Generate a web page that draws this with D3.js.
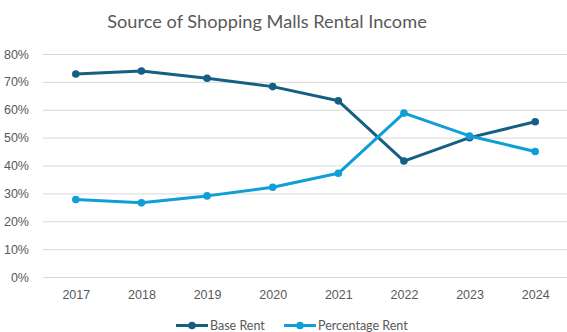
<!DOCTYPE html>
<html>
<head>
<meta charset="utf-8">
<script src="https://cdn.jsdelivr.net/npm/d3@7"></script>
<style>
  html, body { margin: 0; padding: 0; background: #fff; }
  svg { display: block; font-family: "Lato", "Open Sans", sans-serif; }
</style>
</head>
<body>
<svg id="chart" width="567" height="332"></svg>
<script>
const years = ["2017", "2018", "2019", "2020", "2021", "2022", "2023", "2024"];
const baseRent = [72.8, 73.9, 71.3, 68.3, 63.2, 41.6, 50.0, 55.7];
const percentageRent = [27.8, 26.6, 29.1, 32.2, 37.2, 58.8, 50.6, 45.0];
const yTicks = [0, 10, 20, 30, 40, 50, 60, 70, 80];
const seriesNames = ["Base Rent", "Percentage Rent"];
const seriesColors = ["#156082", "#0F9ED5"];

const svg = d3.select("#chart");
const plotLeft = 43, plotRight = 568, plotTop = 54, plotBottom = 277;

const x = d3.scalePoint().domain(years).range([plotLeft, plotRight]).padding(0.5);
const y = d3.scaleLinear().domain([0, 80]).range([plotBottom, plotTop]);

// title
svg.append("text")
  .attr("x", 267).attr("y", 28)
  .attr("text-anchor", "middle")
  .attr("font-size", 18.2)
  .attr("fill", "#595959")
  .text("Source of Shopping Malls Rental Income");

// horizontal gridlines
const yAxis = d3.axisLeft(y).tickValues(yTicks)
  .tickSize(-(plotRight - plotLeft)).tickFormat(d => d + "%").tickPadding(14);
const gy = svg.append("g").attr("transform", `translate(${plotLeft},0)`).call(yAxis);
gy.select(".domain").remove();
gy.selectAll(".tick line").attr("stroke", "#d9d9d9").attr("stroke-width", 1);
gy.selectAll(".tick text").attr("fill", "#595959").attr("font-size", 12.5);

// category axis labels
const xAxis = d3.axisBottom(x).tickSize(0).tickPadding(13);
const gx = svg.append("g").attr("transform", `translate(0,${plotBottom})`).call(xAxis);
gx.select(".domain").remove();
gx.selectAll(".tick text").attr("fill", "#595959").attr("font-size", 12.5);

// lines with markers
const series = [baseRent, percentageRent];
const line = d3.line().x((d, i) => x(years[i])).y(d => y(d));
series.forEach((vals, si) => {
  svg.append("path")
    .datum(vals)
    .attr("fill", "none")
    .attr("stroke", seriesColors[si])
    .attr("stroke-width", 3)
    .attr("stroke-linejoin", "round")
    .attr("d", line);
  svg.append("g").selectAll("circle")
    .data(vals)
    .join("circle")
    .attr("cx", (d, i) => x(years[i]))
    .attr("cy", d => y(d))
    .attr("r", 3.8)
    .attr("fill", seriesColors[si]);
});

// legend
const legendItems = [
  { name: seriesNames[0], color: seriesColors[0], x0: 176 },
  { name: seriesNames[1], color: seriesColors[1], x0: 284 }
];
const ly = 325.5;
legendItems.forEach(it => {
  const g = svg.append("g");
  g.append("line")
    .attr("x1", it.x0).attr("x2", it.x0 + 32)
    .attr("y1", ly).attr("y2", ly)
    .attr("stroke", it.color).attr("stroke-width", 3);
  g.append("circle")
    .attr("cx", it.x0 + 16).attr("cy", ly).attr("r", 3.8)
    .attr("fill", it.color);
  g.append("text")
    .attr("x", it.x0 + 34).attr("y", ly + 4.5)
    .attr("font-size", 12.5).attr("fill", "#595959")
    .text(it.name);
});
</script>
</body>
</html>
